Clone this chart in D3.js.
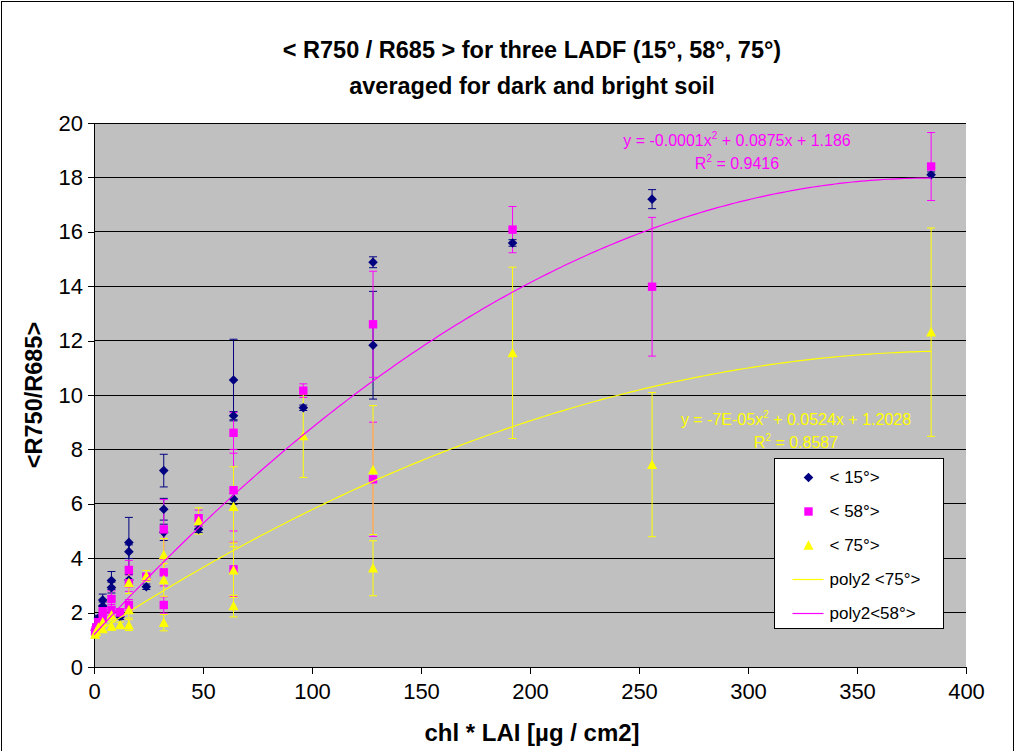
<!DOCTYPE html>
<html lang="en">
<head>
  <meta charset="UTF-8">
  <title>R750 / R685 for three LADF</title>
  <script src="https://d3js.org/d3.v7.min.js"></script>
  <style>
    body {
      margin: 0;
      background: #fff;
      font-family: Arial, "Liberation Sans", sans-serif;
    }
    .grid line {
      stroke: #000;
      shape-rendering: crispEdges;
    }
    .axis path, .axis line {
      stroke: #000;
      shape-rendering: crispEdges;
    }
    .axis text {
      font-family: Arial, "Liberation Sans", sans-serif;
      font-size: 22px;
      fill: #000;
    }
  </style>
</head>
<body>
  <div id="chart"></div>
  <script>
    // < 15° >
    const x15 = [0.5, 1, 2, 4, 4, 8, 8, 12, 16, 16, 16, 24, 32, 32, 32, 48, 64, 64, 64, 96, 128, 128, 192, 256, 384];
    const y15 = [1.35, 1.5, 1.8, 2.46, 2.24, 3.18, 2.92, 1.85, 4.58, 4.24, 3.2, 2.95, 7.22, 5.8, 4.95, 5.06, 10.55, 9.24, 6.18, 9.53, 14.88, 11.83, 15.59, 17.2, 18.1];
    const e15 = [0.05, 0.08, 0.1, 0.22, 0.15, 0.33, 0.2, 0.1, 0.92, 0.25, 0.2, 0.1, 0.6, 0.4, 0.3, 0.12, 1.5, 0.15, 0.2, 0.1, 0.2, 1.98, 0.12, 0.35, 0.1];

    // < 58° >
    const x58 = [0.5, 1, 2, 4, 4, 8, 8, 12, 16, 16, 16, 24, 32, 32, 32, 48, 64, 64, 64, 96, 128, 128, 192, 256, 384];
    const y58 = [1.3, 1.45, 1.65, 2.05, 1.8, 2.5, 2.1, 2.0, 3.57, 3.08, 2.28, 3.32, 5.06, 3.48, 2.28, 5.47, 8.61, 6.5, 3.59, 10.16, 12.6, 6.9, 16.08, 13.98, 18.4];
    const e58 = [0.05, 0.08, 0.1, 0.2, 0.15, 0.3, 0.2, 0.15, 0.35, 0.3, 0.2, 0.1, 1.1, 0.5, 0.3, 0.3, 0.75, 1.5, 1.0, 0.25, 1.95, 2.1, 0.85, 2.55, 1.25];

    // < 75° >
    const x75 = [0.5, 1, 2, 4, 4, 8, 8, 12, 16, 16, 16, 24, 32, 32, 32, 48, 64, 64, 64, 96, 128, 128, 192, 256, 384];
    const y75 = [1.2, 1.3, 1.45, 1.65, 1.4, 1.9, 1.5, 1.55, 3.1, 2.1, 1.54, 3.35, 4.12, 3.2, 1.63, 5.37, 5.89, 3.56, 2.24, 8.49, 7.24, 3.63, 11.55, 7.44, 12.31];
    const e75 = [0.05, 0.05, 0.1, 0.15, 0.1, 0.2, 0.15, 0.1, 0.4, 0.3, 0.2, 0.2, 0.6, 0.6, 0.3, 0.48, 1.47, 1.0, 0.4, 1.52, 2.37, 1.01, 3.15, 2.65, 3.83];

    // poly2 trend coefficients [a, b, c] and range
    const trend58 = [-0.000114, 0.0875, 1.186];
    const trend75 = [-0.0000659, 0.0524, 1.2028];
    const trendRange = [0, 384];

    const xTicks = [0, 50, 100, 150, 200, 250, 300, 350, 400];
    const yTicks = [0, 2, 4, 6, 8, 10, 12, 14, 16, 18, 20];

    const W = 1015, H = 751;
    const margin = { top: 123, right: 48, bottom: 84, left: 94 };
    const height = H - margin.top - margin.bottom;  // 544

    const x = d3.scaleLinear().domain([0, 400]).range([0, 872]);
    const y = d3.scaleLinear().domain([0, 20]).range([height, 0]);

    const svg = d3.select("#chart").append("svg")
      .attr("width", W)
      .attr("height", H);

    // outer chart border
    svg.append("rect")
      .attr("x", 1.5).attr("y", 1.5)
      .attr("width", W - 3).attr("height", H + 10)
      .attr("fill", "none").attr("stroke", "#000");

    // title
    const title = svg.append("text")
      .attr("text-anchor", "middle")
      .style("font-weight", "bold")
      .style("font-size", "23.5px");
    title.append("tspan").attr("x", 532).attr("y", 58).text("< R750 / R685 > for three LADF (15°, 58°, 75°)");
    title.append("tspan").attr("x", 532).attr("y", 94).text("averaged for dark and bright soil");

    const g = svg.append("g")
      .attr("transform", `translate(${margin.left},${margin.top})`);

    // plot area
    g.append("rect")
      .attr("width", 872).attr("height", height)
      .attr("fill", "#C0C0C0");

    // gridlines
    g.append("g")
      .attr("class", "grid")
      .selectAll("line")
      .data(yTicks.slice(1))
      .enter().append("line")
      .attr("x1", 0).attr("x2", 872)
      .attr("y1", d => y(d)).attr("y2", d => y(d));

    // axes
    g.append("g")
      .attr("class", "axis")
      .attr("transform", `translate(0,${height})`)
      .call(d3.axisBottom(x).tickValues(xTicks).tickSize(7).tickPadding(9).tickSizeOuter(0));

    g.append("g")
      .attr("class", "axis")
      .call(d3.axisLeft(y).tickValues(yTicks).tickSize(6).tickPadding(5).tickSizeOuter(0));

    // axis titles
    svg.append("text")
      .attr("x", 532).attr("y", 741)
      .attr("text-anchor", "middle")
      .style("font-weight", "bold")
      .style("font-size", "24px")
      .text("chl * LAI [µg / cm2]");

    svg.append("text")
      .attr("transform", "translate(42,395) rotate(-90)")
      .attr("text-anchor", "middle")
      .style("font-weight", "bold")
      .style("font-size", "23.5px")
      .text("<R750/R685>");

    const series = [
      { xs: x15, ys: y15, es: e15, color: "#000080", shape: "diamond" },
      { xs: x58, ys: y58, es: e58, color: "#FF00FF", shape: "square" },
      { xs: x75, ys: y75, es: e75, color: "#FFFF00", shape: "triangle" }
    ];

    const shapes = {
      diamond: "M0,-4.8L4.8,0L0,4.8L-4.8,0Z",
      square: "M-4.2,-4.2H4.2V4.2H-4.2Z",
      triangle: "M0,-5.2L5,4.3L-5,4.3Z"
    };

    // error bars
    series.forEach(s => {
      const pts = s.xs.map((xv, i) => ({ x: xv, y: s.ys[i], e: s.es[i] }));
      const eb = g.append("g").attr("stroke", s.color).attr("stroke-width", 1);
      eb.selectAll(".bar").data(pts).enter().append("line")
        .attr("x1", d => x(d.x)).attr("x2", d => x(d.x))
        .attr("y1", d => y(d.y - d.e)).attr("y2", d => y(d.y + d.e));
      eb.selectAll(".capT").data(pts).enter().append("line")
        .attr("x1", d => x(d.x) - 4).attr("x2", d => x(d.x) + 4)
        .attr("y1", d => y(d.y + d.e)).attr("y2", d => y(d.y + d.e));
      eb.selectAll(".capB").data(pts).enter().append("line")
        .attr("x1", d => x(d.x) - 4).attr("x2", d => x(d.x) + 4)
        .attr("y1", d => y(d.y - d.e)).attr("y2", d => y(d.y - d.e));
    });

    // markers
    series.forEach(s => {
      const pts = s.xs.map((xv, i) => ({ x: xv, y: s.ys[i] }));
      g.append("g").selectAll("path").data(pts).enter().append("path")
        .attr("d", shapes[s.shape])
        .attr("transform", d => `translate(${x(d.x)},${y(d.y)})`)
        .attr("fill", s.color);
    });

    // trendlines
    const poly = c => v => c[0] * v * v + c[1] * v + c[2];
    const samples = d3.range(trendRange[0], trendRange[1] + 0.1, 2);
    [[trend75, "#FFFF00"], [trend58, "#FF00FF"]].forEach(([c, col]) => {
      const f = poly(c);
      g.append("path")
        .datum(samples)
        .attr("fill", "none")
        .attr("stroke", col)
        .attr("stroke-width", 1.2)
        .attr("d", d3.line().x(d => x(d)).y(d => y(f(d))));
    });

    // trend equations
    function equation(cx, yb, col, parts, r2) {
      const t = svg.append("text")
        .attr("x", cx).attr("y", yb)
        .attr("text-anchor", "middle")
        .attr("fill", col)
        .style("font-size", "16px");
      t.append("tspan").text(parts[0]);
      t.append("tspan").attr("dy", -7).style("font-size", "10px").text("2");
      t.append("tspan").attr("dy", 7).text(parts[1]);
      const r = svg.append("text")
        .attr("x", cx).attr("y", yb + 23)
        .attr("text-anchor", "middle")
        .attr("fill", col)
        .style("font-size", "16px");
      r.append("tspan").text("R");
      r.append("tspan").attr("dy", -7).style("font-size", "10px").text("2");
      r.append("tspan").attr("dy", 7).text(" = " + r2);
    }
    equation(737, 146, "#FF00FF", ["y = -0.0001x", " + 0.0875x + 1.186"], "0.9416");
    equation(796, 425, "#FFFF00", ["y = -7E-05x", " + 0.0524x + 1.2028"], "0.8587");

    // legend
    const legendItems = [
      { label: "< 15°>", type: "diamond", color: "#000080" },
      { label: "< 58°>", type: "square", color: "#FF00FF" },
      { label: "< 75°>", type: "triangle", color: "#FFFF00" },
      { label: "poly2 <75°>", type: "line", color: "#FFFF00" },
      { label: "poly2<58°>", type: "line", color: "#FF00FF" }
    ];
    const lg = svg.append("g").attr("transform", "translate(774.5,458.5)");
    lg.append("rect")
      .attr("width", 169).attr("height", 170)
      .attr("fill", "#fff").attr("stroke", "#000");
    legendItems.forEach((d, i) => {
      const cy = 19 + i * 34;
      if (d.type === "line") {
        lg.append("line")
          .attr("x1", 18).attr("x2", 49)
          .attr("y1", cy).attr("y2", cy)
          .attr("stroke", d.color).attr("stroke-width", 1.2);
      } else {
        lg.append("path")
          .attr("d", shapes[d.type])
          .attr("transform", `translate(34,${cy})`)
          .attr("fill", d.color);
      }
      lg.append("text")
        .attr("x", 55).attr("y", cy)
        .attr("dy", "0.35em")
        .style("font-size", "17px")
        .text(d.label);
    });
  </script>
</body>
</html>
